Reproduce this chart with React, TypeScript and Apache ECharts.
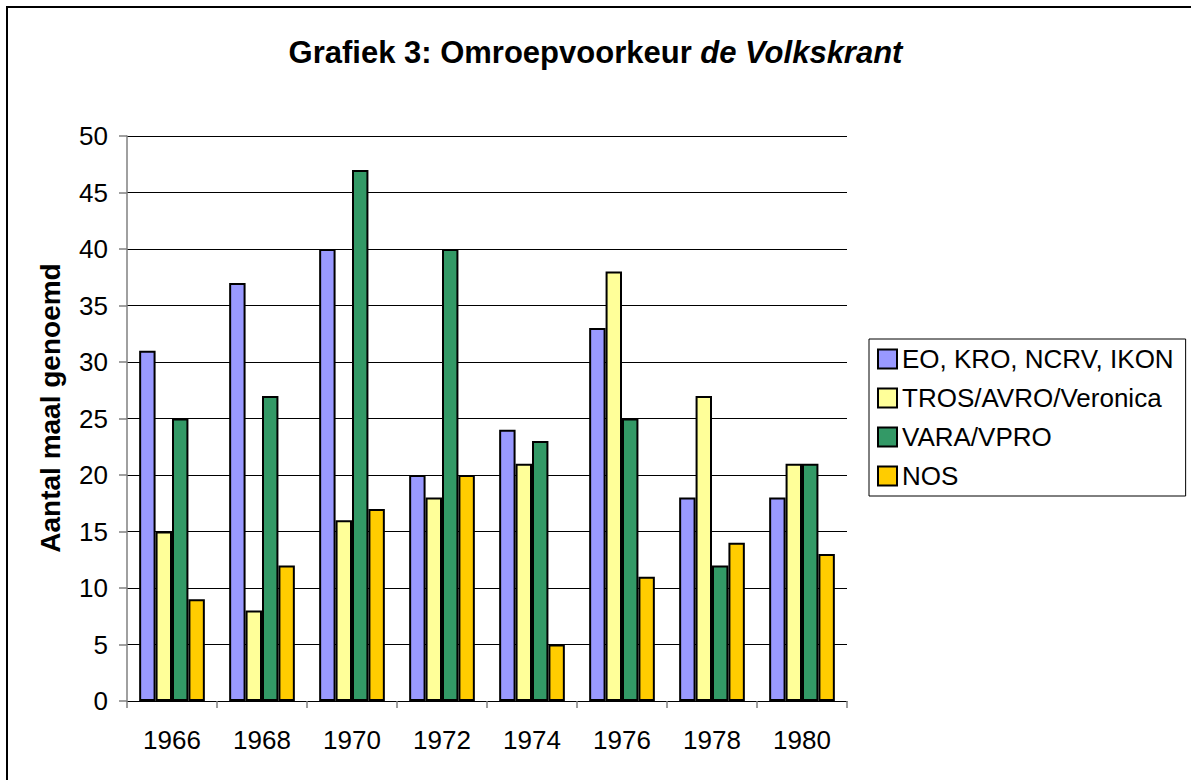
import React, { useEffect, useRef } from "react";
import * as echarts from "echarts";

const years = ["1966", "1968", "1970", "1972", "1974", "1976", "1978", "1980"];
const eoKroNcrvIkon = [31, 37, 40, 20, 24, 33, 18, 18];
const trosAvroVeronica = [15, 8, 16, 18, 21, 38, 27, 21];
const varaVpro = [25, 27, 47, 40, 23, 25, 12, 21];
const nos = [9, 12, 17, 20, 5, 11, 14, 13];

const seriesNames = ["EO, KRO, NCRV, IKON", "TROS/AVRO/Veronica", "VARA/VPRO", "NOS"];
const seriesColors = ["#9999FF", "#FFFF99", "#339966", "#FFCC00"];
const seriesData = [eoKroNcrvIkon, trosAvroVeronica, varaVpro, nos];

const FONT = "Arial, 'Liberation Sans', sans-serif";

export default function App() {
  const ref = useRef<HTMLDivElement>(null);
  useEffect(() => {
    if (!ref.current) return;
    const chart = echarts.init(ref.current, null, { renderer: "svg" });
    chart.setOption({
      animation: false,
      backgroundColor: "#ffffff",
      title: {
        left: "center",
        top: 32,
        text: "{b|Grafiek 3: Omroepvoorkeur }{i|de Volkskrant}",
        textStyle: {
          rich: {
            b: { fontFamily: FONT, fontSize: 31, fontWeight: "bold", color: "#000" },
            i: { fontFamily: FONT, fontSize: 31, fontWeight: "bold", fontStyle: "italic", color: "#000" },
          },
        },
      },
      legend: {
        orient: "vertical",
        left: 869,
        top: 339,
        itemWidth: 19,
        itemHeight: 19,
        itemGap: 13,
        padding: [7, 12, 7, 8],
        borderColor: "#000",
        borderWidth: 1,
        icon: "rect",
        itemStyle: { borderColor: "#000", borderWidth: 2 },
        textStyle: { fontFamily: FONT, fontSize: 26, color: "#000", lineHeight: 19 },
        data: seriesNames,
      },
      grid: { left: 127, top: 136, width: 720, height: 565, containLabel: false },
      xAxis: {
        type: "category",
        data: years,
        axisLine: { show: true, lineStyle: { color: "#000", width: 1 } },
        axisTick: { show: true, length: 7, lineStyle: { color: "#808080", width: 1.5 } },
        axisLabel: { fontFamily: FONT, fontSize: 26, color: "#000", margin: 26 },
      },
      yAxis: {
        type: "value",
        min: 0,
        max: 50,
        interval: 5,
        axisLine: { show: true, lineStyle: { color: "#808080", width: 1.5 } },
        axisTick: { show: true, length: 8, lineStyle: { color: "#808080", width: 1.5 } },
        axisLabel: { fontFamily: FONT, fontSize: 26, color: "#000", margin: 19 },
        splitLine: { show: true, lineStyle: { color: "#000", width: 1 } },
      },
      graphic: [
        {
          type: "rect",
          shape: { x: 7, y: 7, width: 1200, height: 800 },
          style: { fill: "none", stroke: "#000", lineWidth: 2 },
          silent: true,
        },
        {
          type: "text",
          x: 50,
          y: 408,
          rotation: Math.PI / 2,
          style: {
            text: "Aantal maal genoemd",
            fontFamily: FONT,
            fontSize: 28,
            fontWeight: "bold",
            fill: "#000",
            align: "center",
            verticalAlign: "middle",
          },
        },
      ],
      series: seriesNames.map((name, i) => ({
        name,
        type: "bar",
        data: seriesData[i],
        barGap: "0%",
        barCategoryGap: "27%",
        itemStyle: { color: seriesColors[i], borderColor: "#000", borderWidth: 2 },
      })),
    });
    return () => chart.dispose();
  }, []);
  return <div ref={ref} style={{ position: "fixed", left: 0, top: 0, width: 1191, height: 780 }} />;
}
